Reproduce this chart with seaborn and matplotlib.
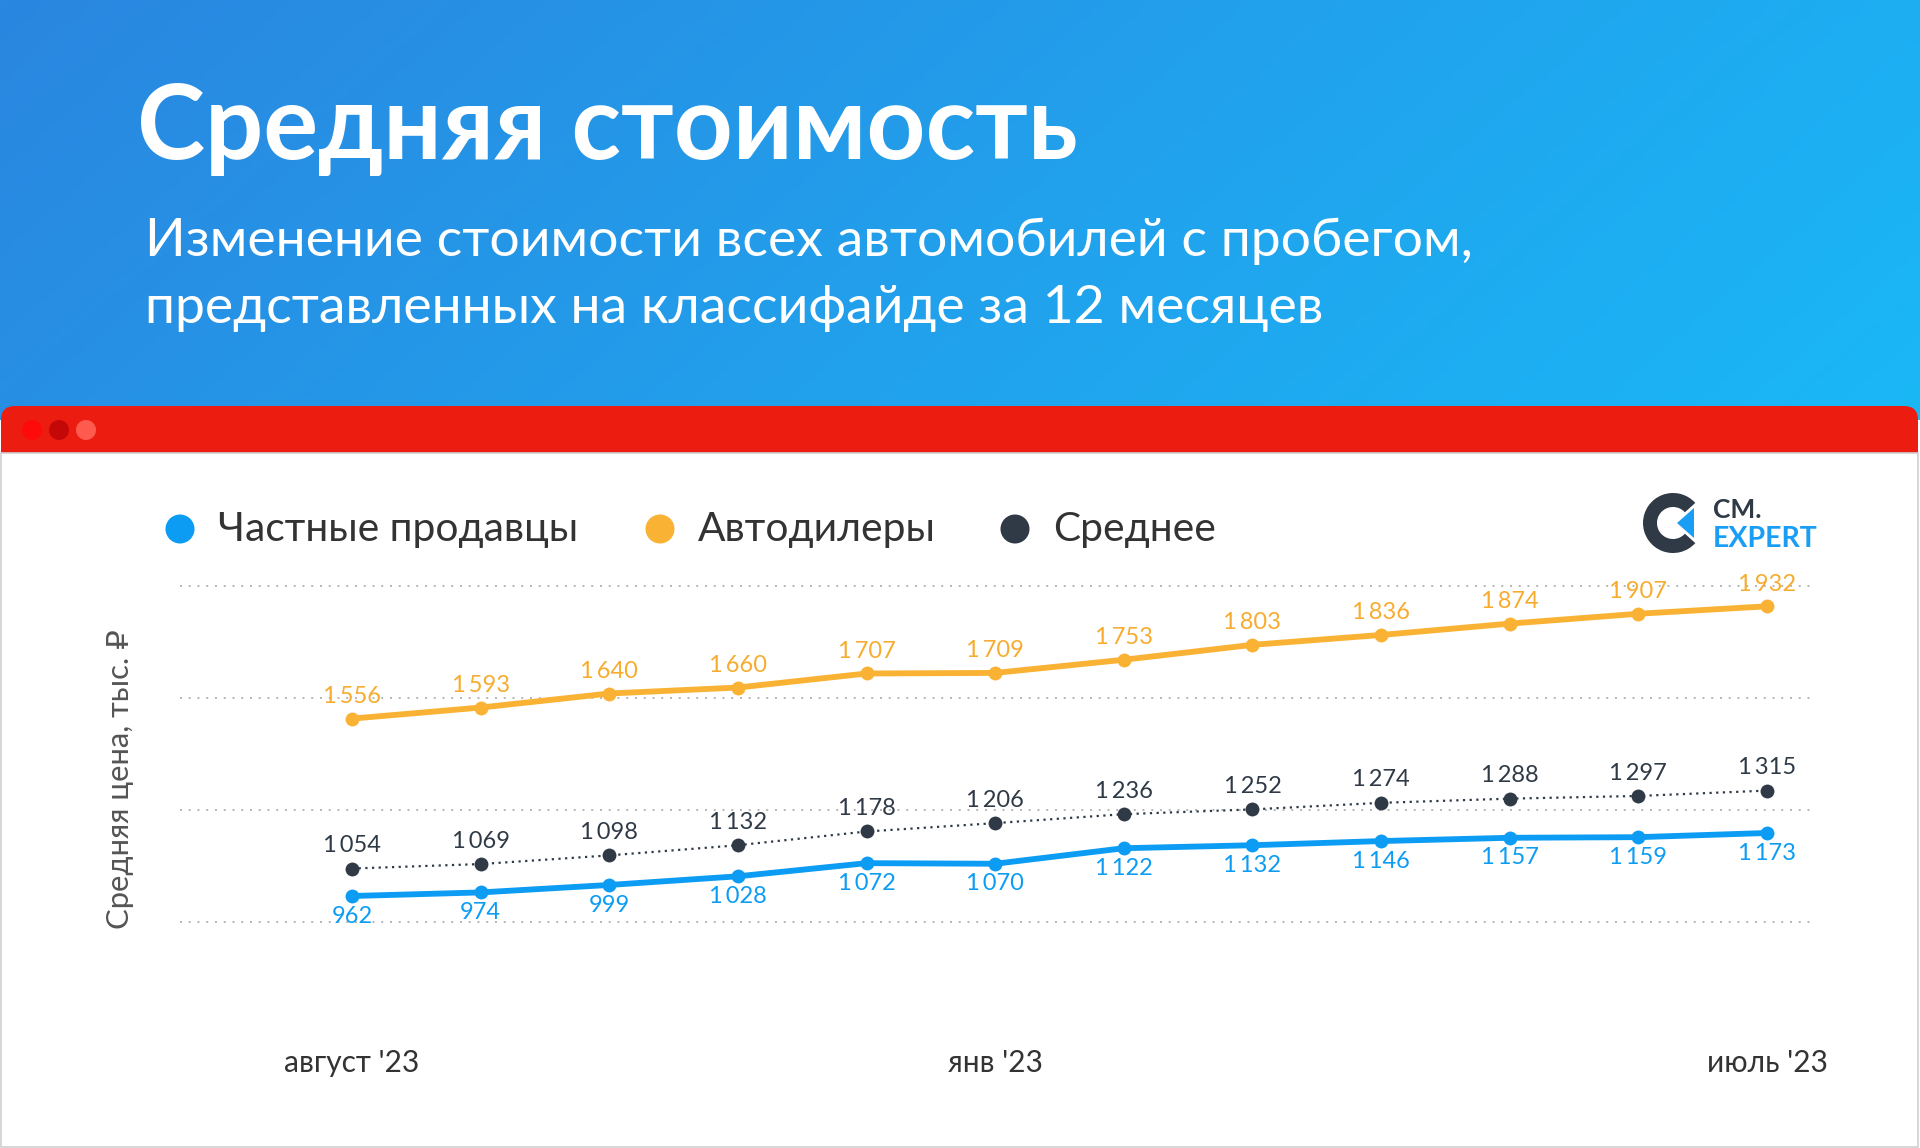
import numpy as np
import pandas as pd
import matplotlib
matplotlib.use("Agg")
import matplotlib.pyplot as plt
import seaborn as sns
from matplotlib.patches import FancyBboxPatch, Rectangle, Circle, Wedge, Polygon

# ── Data ────────────────────────────────────────────────────────────────────
months = ["авг", "сен", "окт", "ноя", "дек", "янв",
          "фев", "мар", "апр", "май", "июн", "июл"]
private_sellers = [962, 974, 999, 1028, 1072, 1070, 1122, 1132, 1146, 1157, 1159, 1173]
dealers = [1556, 1593, 1640, 1660, 1707, 1709, 1753, 1803, 1836, 1874, 1907, 1932]
average = [1054, 1069, 1098, 1132, 1178, 1206, 1236, 1252, 1274, 1288, 1297, 1315]

tick_pos = [0, 5, 11]
tick_labels = ["август '23", "янв '23", "июль '23"]
grid_values = [875, 1250, 1625, 2000]

series_names = ["Частные продавцы", "Автодилеры", "Среднее"]

BLUE = "#0d9cf3"
ORANGE = "#f9b233"
DARK = "#2f3a46"
TEXT = "#333333"

# ── Style ───────────────────────────────────────────────────────────────────
sns.set_theme(style="white")
plt.rcParams["font.family"] = ["Lato", "DejaVu Sans"]

W, H = 1920, 1148
fig = plt.figure(figsize=(W / 100, H / 100), dpi=100)

# background layer in pixel coordinates (y goes down)
bg = fig.add_axes([0, 0, 1, 1], zorder=0)
bg.set_xlim(0, W)
bg.set_ylim(H, 0)
bg.axis("off")

# blue gradient header
gx = np.linspace(0, 1, 400)
gy = np.linspace(0, 1, 100)
GX, GY = np.meshgrid(gx, gy)
t = np.clip(0.8 * GX + 0.2 * GY, 0, 1)
c0 = np.array([0x2a, 0x86, 0xe0]) / 255
c1 = np.array([0x1a, 0xb8, 0xf6]) / 255
grad = c0[None, None, :] * (1 - t[..., None]) + c1[None, None, :] * t[..., None]
bg.imshow(grad, extent=(0, W, 420, 0), aspect="auto", zorder=0)

# red "window" bar + white panel
bg.add_patch(FancyBboxPatch((1, 406), W - 3, 80,
                            boxstyle="round,pad=0,rounding_size=14",
                            fc="#ec1c10", ec="none", zorder=1))
bg.add_patch(Rectangle((1, 453), W - 3, H - 454, fc="white",
                       ec="#cfcfcf", lw=1.2, zorder=2))
for cx, col in zip([32, 59, 86], ["#ff0a0a", "#c40808", "#ff5a4e"]):
    bg.add_patch(Circle((cx, 430), 10, fc=col, ec="none", zorder=3))

# title / subtitle
bg.text(137, 159, "Средняя стоимость", color="white", fontsize=74,
        fontweight="bold", va="baseline", ha="left", zorder=3)
bg.text(145, 256, "Изменение стоимости всех автомобилей с пробегом,",
        color="white", fontsize=38.5, va="baseline", ha="left", zorder=3)
bg.text(145, 323, "представленных на классифайде за 12 месяцев",
        color="white", fontsize=38.5, va="baseline", ha="left", zorder=3)

# legend
for cx, col, name in zip([180, 660, 1015], [BLUE, ORANGE, DARK], series_names):
    bg.add_patch(Circle((cx, 529), 14.5, fc=col, ec="none", zorder=3))
    bg.text(cx + 38, 530, name, color=TEXT, fontsize=29.3,
            va="center", ha="left", zorder=3)

# logo
bg.add_patch(Wedge((1673, 523), 30, 42, 318, width=14, fc=DARK, ec="none", zorder=3))
bg.add_patch(Polygon([(1677, 523), (1694, 508), (1694, 538)], closed=True,
                     fc="#1a9ef5", ec="none", zorder=3))
bg.text(1713, 510, "CM.", color=DARK, fontsize=19, fontweight="bold",
        va="center", ha="left", zorder=3)
bg.text(1713, 539, "EXPERT", color="#1a9ef5", fontsize=20.5, fontweight="bold",
        va="center", ha="left", zorder=3)

# y label
bg.text(120, 779, "Средняя цена, тыс. ₽", color="#555555", fontsize=22.3,
        rotation=90, va="center", ha="center", zorder=3)

# ── Chart ───────────────────────────────────────────────────────────────────
ax = fig.add_axes([180 / W, 1 - 1034 / H, (1812 - 180) / W, (1034 - 583) / H], zorder=2)
ax.patch.set_alpha(0)

df = pd.DataFrame({
    "idx": np.arange(len(months)),
    "month": months,
    "private": private_sellers,
    "dealers": dealers,
    "average": average,
})

sns.lineplot(data=df, x="idx", y="dealers", ax=ax, color=ORANGE, lw=4.2,
             marker="o", markersize=10, markeredgewidth=0, zorder=3)
sns.lineplot(data=df, x="idx", y="average", ax=ax, color=DARK, lw=1.6,
             linestyle=(0, (1, 2)), marker="o", markersize=10,
             markeredgewidth=0, zorder=4)
sns.lineplot(data=df, x="idx", y="private", ax=ax, color=BLUE, lw=4.2,
             marker="o", markersize=10, markeredgewidth=0, zorder=5)


def fmt(v):
    return f"{v:,}".replace(",", "\u2009")


for i in range(len(months)):
    ax.annotate(fmt(dealers[i]), (i, dealers[i]), xytext=(0, 16),
                textcoords="offset points", ha="center", va="center",
                color="#f7ac2f", fontsize=17, zorder=6)
    ax.annotate(fmt(average[i]), (i, average[i]), xytext=(0, 16.5),
                textcoords="offset points", ha="center", va="center",
                color=DARK, fontsize=17, zorder=6)
    ax.annotate(fmt(private_sellers[i]), (i, private_sellers[i]), xytext=(0, -14.5),
                textcoords="offset points", ha="center", va="center",
                color=BLUE, fontsize=17, zorder=6)

ax.set_xlim(-1.337, 11.35)
ax.set_ylim(500, 2010)
ax.set_yticks(grid_values)
ax.set_yticklabels([])
ax.yaxis.grid(True, linestyle=(0, (1, 3.5)), color="#b5b5b5", lw=1.4)
ax.xaxis.grid(False)
ax.set_xticks(tick_pos)
ax.set_xticklabels(tick_labels, color=TEXT, fontsize=21.5)
ax.tick_params(axis="x", length=0, pad=11)
ax.tick_params(axis="y", length=0)
ax.set_xlabel("")
ax.set_ylabel("")
for s in ax.spines.values():
    s.set_visible(False)

fig.savefig("out.png", dpi=100)
